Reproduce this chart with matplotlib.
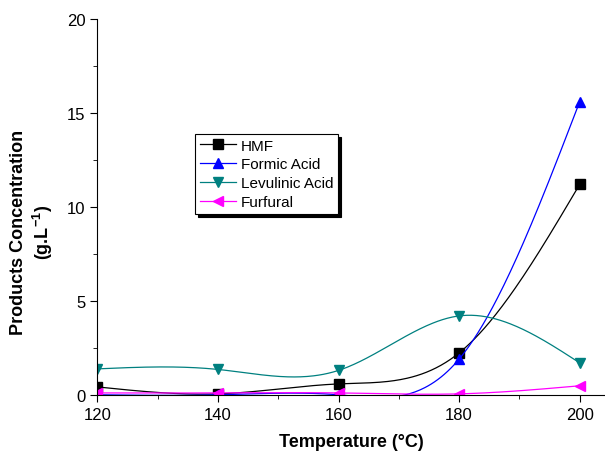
import numpy as np
import matplotlib
matplotlib.use("Agg")
import matplotlib.pyplot as plt
from matplotlib.ticker import MultipleLocator

plt.rcParams['font.family'] = ['Liberation Sans', 'DejaVu Sans']
plt.rcParams['mathtext.default'] = 'regular'

# data
temperature = [120, 140, 160, 180, 200]
hmf = [0.42, 0.05, 0.58, 2.23, 11.2]
formic_acid = [0.0, 0.0, 0.0, 1.9, 15.6]
levulinic_acid = [1.38, 1.35, 1.3, 4.2, 1.7]
furfural = [0.1, 0.1, 0.1, 0.05, 0.48]


def natural_spline(x, y, n=300):
    # plain natural cubic spline through the points
    x = np.asarray(x, float)
    y = np.asarray(y, float)
    k = len(x)
    h = np.diff(x)
    A = np.zeros((k, k))
    b = np.zeros(k)
    A[0, 0] = A[-1, -1] = 1
    for i in range(1, k - 1):
        A[i, i - 1] = h[i - 1]
        A[i, i] = 2 * (h[i - 1] + h[i])
        A[i, i + 1] = h[i]
        b[i] = 6 * ((y[i + 1] - y[i]) / h[i] - (y[i] - y[i - 1]) / h[i - 1])
    m = np.linalg.solve(A, b)
    xs = np.linspace(x[0], x[-1], n)
    idx = np.clip(np.searchsorted(x, xs) - 1, 0, k - 2)
    x0, x1 = x[idx], x[idx + 1]
    hh = x1 - x0
    t0, t1 = x1 - xs, xs - x0
    ys = (m[idx] * t0 ** 3 + m[idx + 1] * t1 ** 3) / (6 * hh) \
        + (y[idx] / hh - m[idx] * hh / 6) * t0 \
        + (y[idx + 1] / hh - m[idx + 1] * hh / 6) * t1
    return xs, ys


fig = plt.figure(figsize=(6.05, 4.56), dpi=100)
ax = fig.add_axes([0.161, 0.132, 0.839, 0.824])

series = [
    ("HMF", hmf, "black", "s"),
    ("Formic Acid", formic_acid, "#0000ff", "^"),
    ("Levulinic Acid", levulinic_acid, "#008080", "v"),
    ("Furfural", furfural, "#ff00ff", "<"),
]

for name, vals, col, mk in series:
    xs, ys = natural_spline(temperature, vals)
    ax.plot(xs, ys, color=col, lw=0.9)
    ax.plot(temperature, vals, linestyle="none", marker=mk, color=col,
            markersize=6.5)
    # proxy for legend (line + marker)
    ax.plot([], [], color=col, lw=0.9, marker=mk, markersize=6.5, label=name)

ax.set_xlim(120, 204.2)
ax.set_ylim(0, 20)
ax.xaxis.set_major_locator(MultipleLocator(20))
ax.xaxis.set_minor_locator(MultipleLocator(10))
ax.yaxis.set_major_locator(MultipleLocator(5))
ax.yaxis.set_minor_locator(MultipleLocator(2.5))
ax.spines['top'].set_visible(False)
ax.spines['right'].set_visible(False)
ax.tick_params(which='major', direction='out', length=5, labelsize=12)
ax.tick_params(which='minor', direction='out', length=3)

ax.set_xlabel("Temperature (°C)", fontsize=13, fontweight='bold', labelpad=8)
ax.set_ylabel("Products Concentration\n(g.L$^{-1}$)", fontsize=13,
              fontweight='bold')
ax.yaxis.set_label_coords(-0.084, 0.434)

leg = ax.legend(loc='upper left', bbox_to_anchor=(195 / 605, 1 - 135 / 456),
                bbox_transform=fig.transFigure, borderaxespad=0,
                fancybox=False, shadow={'color': 'black', 'alpha': 1},
                framealpha=1, edgecolor='black', fontsize=11,
                handlelength=2.4, labelspacing=0.32, borderpad=0.3,
                handletextpad=0.3)
leg.get_frame().set_linewidth(0.8)

fig.savefig("out.png", dpi=100)
